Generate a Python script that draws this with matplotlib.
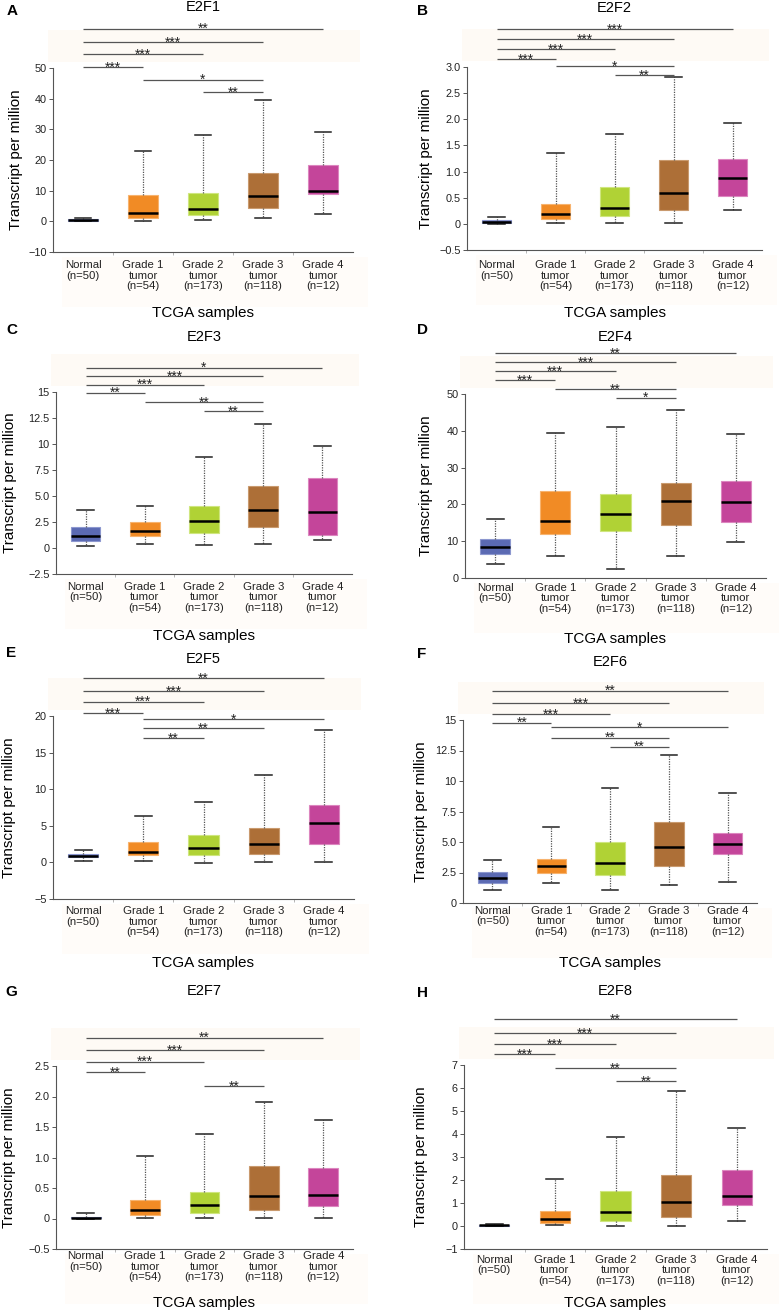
import matplotlib
matplotlib.use("Agg")
import matplotlib.pyplot as plt
from matplotlib.patches import Rectangle

plt.rcParams['font.family'] = ['Liberation Sans', 'DejaVu Sans']

# ---------------- data ----------------
categories = ["Normal\n(n=50)", "Grade 1\ntumor\n(n=54)", "Grade 2\ntumor\n(n=173)",
              "Grade 3\ntumor\n(n=118)", "Grade 4\ntumor\n(n=12)"]
box_colors = ["#5b6ab3", "#f18b25", "#b0d235", "#ad6f37", "#c4459a"]
edge_colors = ["#8c97cf", "#f7b36e", "#cfe67f", "#c99a6e", "#dc86bf"]

genes = ["E2F1", "E2F2", "E2F3", "E2F4", "E2F5", "E2F6", "E2F7", "E2F8"]
letters = ["A", "B", "C", "D", "E", "F", "G", "H"]

whisker_low = {
    "E2F1": [0.0, 0.2, 0.5, 1.0, 2.5],
    "E2F2": [0.0, 0.01, 0.01, 0.02, 0.27],
    "E2F3": [0.22, 0.35, 0.29, 0.35, 0.74],
    "E2F4": [3.9, 6.0, 2.35, 6.0, 9.9],
    "E2F5": [0.18, 0.18, -0.09, 0.0, 0.09],
    "E2F6": [1.04, 1.61, 1.09, 1.5, 1.69],
    "E2F7": [0.0, 0.01, 0.01, 0.005, 0.01],
    "E2F8": [0.0, 0.03, 0.02, 0.02, 0.2],
}
quartile1 = {
    "E2F1": [0.25, 1.1, 2.2, 4.5, 8.8],
    "E2F2": [0.025, 0.085, 0.155, 0.27, 0.53],
    "E2F3": [0.70, 1.15, 1.41, 1.98, 1.28],
    "E2F4": [6.6, 12.0, 12.9, 14.5, 15.2],
    "E2F5": [0.68, 1.0, 1.05, 1.18, 2.45],
    "E2F6": [1.64, 2.43, 2.26, 3.05, 4.01],
    "E2F7": [0.005, 0.056, 0.083, 0.132, 0.203],
    "E2F8": [0.01, 0.13, 0.22, 0.38, 0.91],
}
medians = {
    "E2F1": [0.55, 2.8, 4.0, 8.2, 9.8],
    "E2F2": [0.045, 0.18, 0.30, 0.59, 0.87],
    "E2F3": [1.15, 1.63, 2.56, 3.61, 3.45],
    "E2F4": [8.3, 15.6, 17.5, 20.9, 20.7],
    "E2F5": [0.91, 1.41, 2.0, 2.45, 5.36],
    "E2F6": [2.02, 3.03, 3.3, 4.61, 4.83],
    "E2F7": [0.015, 0.143, 0.22, 0.367, 0.39],
    "E2F8": [0.03, 0.32, 0.62, 1.06, 1.32],
}
quartile3 = {
    "E2F1": [0.9, 8.5, 9.1, 15.9, 18.5],
    "E2F2": [0.065, 0.38, 0.70, 1.22, 1.25],
    "E2F3": [1.98, 2.53, 4.06, 5.92, 6.69],
    "E2F4": [10.6, 23.6, 22.7, 25.8, 26.4],
    "E2F5": [1.14, 2.73, 3.73, 4.73, 7.9],
    "E2F6": [2.56, 3.6, 4.99, 6.65, 5.75],
    "E2F7": [0.03, 0.307, 0.427, 0.863, 0.82],
    "E2F8": [0.06, 0.67, 1.52, 2.21, 2.45],
}
whisker_high = {
    "E2F1": [1.2, 23.0, 28.1, 39.6, 29.2],
    "E2F2": [0.13, 1.35, 1.71, 2.80, 1.93],
    "E2F3": [3.65, 4.06, 8.77, 11.93, 9.76],
    "E2F4": [15.9, 39.3, 40.9, 45.6, 39.1],
    "E2F5": [1.68, 6.36, 8.23, 11.9, 18.14],
    "E2F6": [3.55, 6.22, 9.44, 12.11, 9.0],
    "E2F7": [0.09, 1.02, 1.38, 1.905, 1.62],
    "E2F8": [0.1, 2.03, 3.89, 5.89, 4.25],
}

# significance: (group a, group b, level in data units, label)
significance = {
    "E2F1": [(0, 4, 62.8, "**"), (0, 3, 58.4, "***"), (0, 2, 54.5, "***"), (0, 1, 50.3, "***"),
             (1, 3, 46.2, "*"), (2, 3, 42.1, "**")],
    "E2F2": [(0, 4, 3.72, "***"), (0, 3, 3.53, "***"), (0, 2, 3.34, "***"), (0, 1, 3.15, "***"),
             (1, 3, 3.02, "*"), (2, 3, 2.84, "**")],
    "E2F3": [(0, 4, 17.34, "*"), (0, 3, 16.54, "***"), (0, 2, 15.71, "***"), (0, 1, 14.94, "**"),
             (1, 3, 14.04, "**"), (2, 3, 13.15, "**")],
    "E2F4": [(0, 4, 61.1, "**"), (0, 3, 58.6, "***"), (0, 2, 56.2, "***"), (0, 1, 53.8, "***"),
             (1, 3, 51.4, "**"), (2, 3, 49.0, "*")],
    "E2F5": [(0, 4, 25.14, "**"), (0, 3, 23.41, "***"), (0, 2, 21.95, "***"), (0, 1, 20.36, "***"),
             (1, 4, 19.59, "*"), (1, 3, 18.32, "**"), (1, 2, 16.95, "**")],
    "E2F6": [(0, 4, 17.4, "**"), (0, 3, 16.36, "***"), (0, 2, 15.49, "***"), (0, 1, 14.78, "**"),
             (1, 4, 14.43, "*"), (1, 3, 13.55, "**"), (2, 3, 12.82, "**")],
    "E2F7": [(0, 4, 2.964, "**"), (0, 3, 2.756, "***"), (0, 2, 2.571, "***"), (0, 1, 2.40, "**"),
             (2, 3, 2.173, "**")],
    "E2F8": [(0, 4, 9.0, "**"), (0, 3, 8.39, "***"), (0, 2, 7.91, "***"), (0, 1, 7.46, "***"),
             (1, 3, 6.85, "**"), (2, 3, 6.31, "**")],
}

y_limits = {
    "E2F1": (-10, 50), "E2F2": (-0.5, 3.0), "E2F3": (-2.5, 15), "E2F4": (0, 50),
    "E2F5": (-5, 20), "E2F6": (0, 15), "E2F7": (-0.5, 2.5), "E2F8": (-1, 7),
}
y_ticks = {
    "E2F1": [-10, 0, 10, 20, 30, 40, 50],
    "E2F2": [-0.5, 0, 0.5, 1.0, 1.5, 2.0, 2.5, 3.0],
    "E2F3": [-2.5, 0, 2.5, 5.0, 7.5, 10, 12.5, 15],
    "E2F4": [0, 10, 20, 30, 40, 50],
    "E2F5": [-5, 0, 5, 10, 15, 20],
    "E2F6": [0, 2.5, 5.0, 7.5, 10, 12.5, 15],
    "E2F7": [-0.5, 0, 0.5, 1.0, 1.5, 2.0, 2.5],
    "E2F8": [-1, 0, 1, 2, 3, 4, 5, 6, 7],
}
y_tick_labels = {
    "E2F1": ["\u221210", "0", "10", "20", "30", "40", "50"],
    "E2F2": ["\u22120.5", "0", "0.5", "1.0", "1.5", "2.0", "2.5", "3.0"],
    "E2F3": ["\u22122.5", "0", "2.5", "5.0", "7.5", "10", "12.5", "15"],
    "E2F4": ["0", "10", "20", "30", "40", "50"],
    "E2F5": ["\u22125", "0", "5", "10", "15", "20"],
    "E2F6": ["0", "2.5", "5.0", "7.5", "10", "12.5", "15"],
    "E2F7": ["\u22120.5", "0", "0.5", "1.0", "1.5", "2.0", "2.5"],
    "E2F8": ["\u22121", "0", "1", "2", "3", "4", "5", "6", "7"],
}

# ---------------- layout (pixels) ----------------
W, H = 779, 1315
axes_px = [  # x0, y_top, x1, y_bottom
    (53, 68, 353, 252), (467, 67, 762, 250),
    (56, 392, 352, 574), (465, 394, 766, 578),
    (53, 716, 354, 899), (463, 720, 757, 903),
    (56, 1066, 353, 1249), (464, 1065, 767, 1249),
]
title_y = [7.5, 7.5, 337, 337, 659, 662, 991, 991]
letter_pos = [(12, 11), (422, 11), (12, 330), (422, 330), (11, 653), (422, 654), (11, 992), (422, 993)]
tick_pad_px = [8.4, 10.4, 8.0, 4.7, 7.4, 3.0, 2.4, 5.7]
xlabel_off = [61, 63, 62, 61, 64, 60, 54, 54]
ylabel_off = [37, 41, 46, 39, 44, 42, 47, 43]

fig = plt.figure(figsize=(W / 100, H / 100), dpi=100)
fig.patch.set_facecolor("white")

band_color = "#fefaf5"
for (x0, yt, x1, yb) in axes_px:
    # faint band behind the significance brackets
    fig.add_artist(Rectangle(((x0 - 5) / W, 1 - (yt - 6) / H), (x1 - x0 + 12) / W, 32 / H,
                             transform=fig.transFigure, facecolor=band_color, edgecolor="none",
                             zorder=-5))
    # faint band behind the category labels
    fig.add_artist(Rectangle(((x0 + 9) / W, 1 - (yb + 55) / H), (x1 - x0 + 6) / W, 50 / H,
                             transform=fig.transFigure, facecolor="#fffcf9", edgecolor="none",
                             zorder=-5))

for k, gene in enumerate(genes):
    x0, yt, x1, yb = axes_px[k]
    wpx, hpx = x1 - x0, yb - yt
    ax = fig.add_axes([x0 / W, 1 - yb / H, wpx / W, hpx / H])
    ax.set_facecolor("none")

    stats = []
    for i in range(5):
        stats.append(dict(whislo=whisker_low[gene][i], q1=quartile1[gene][i],
                          med=medians[gene][i], q3=quartile3[gene][i],
                          whishi=whisker_high[gene][i], fliers=[]))
    bp = ax.bxp(stats, positions=range(5), widths=0.5, capwidths=0.28,
                patch_artist=True, showfliers=False,
                whiskerprops=dict(linestyle=(0, (1, 1)), color="#555555", linewidth=0.9),
                capprops=dict(color="#222222", linewidth=1.1),
                medianprops=dict(color="black", linewidth=1.8),
                boxprops=dict(linewidth=0.8))
    for i, patch in enumerate(bp["boxes"]):
        patch.set_facecolor(box_colors[i])
        patch.set_edgecolor(edge_colors[i])

    ax.set_xlim(-0.5, 4.5)
    ax.set_ylim(*y_limits[gene])
    ax.set_yticks(y_ticks[gene])
    ax.set_yticklabels(y_tick_labels[gene])
    ax.set_xticks(range(5))
    ax.set_xticklabels(categories, fontsize=8.2, linespacing=1.05, color="#222222")
    ax.set_xticks([0.5, 1.5, 2.5, 3.5], minor=True)
    ax.tick_params(axis="x", which="major", length=0, pad=tick_pad_px[k] * 0.72)
    ax.tick_params(axis="x", which="minor", length=2.5, width=0.6, color="#aaaaaa")
    ax.tick_params(axis="y", length=3, width=0.7, color="#555555", labelsize=7.8,
                   labelcolor="#222222", pad=1.5)
    for s in ("top", "right"):
        ax.spines[s].set_visible(False)
    for s in ("left", "bottom"):
        ax.spines[s].set_color("#555555")
        ax.spines[s].set_linewidth(0.8)

    ax.set_xlabel("TCGA samples", fontsize=11, va="center")
    ax.xaxis.set_label_coords(0.5, -xlabel_off[k] / hpx)
    ax.set_ylabel("Transcript per million", fontsize=11, va="center")
    ax.yaxis.set_label_coords(-ylabel_off[k] / wpx, 0.5)

    ax.set_title(gene, fontsize=10.5, va="center", y=1 + (yt - title_y[k]) / hpx, pad=0)

    for (a, b, lev, lab) in significance[gene]:
        ax.plot([a, b], [lev, lev], color="#555555", linewidth=0.9, clip_on=False,
                solid_capstyle="butt")
        ax.annotate(lab, xy=((a + b) / 2, lev), xytext=(0, -3.2), textcoords="offset points",
                    ha="center", va="baseline", fontsize=10, annotation_clip=False,
                    color="#222222")

    lx, ly = letter_pos[k]
    fig.text(lx / W, 1 - ly / H, letters[k], fontsize=11, fontweight="bold",
             ha="center", va="center")

fig.savefig("out.png", dpi=100)
